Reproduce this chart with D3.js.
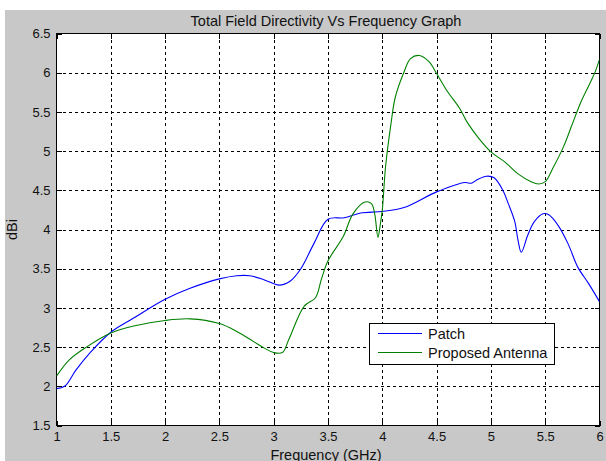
<!DOCTYPE html>
<html>
<head>
<meta charset="utf-8">
<script src="https://cdn.jsdelivr.net/npm/d3@7"></script>
<style>
  body { margin: 0; background: #fff; }
  svg { display: block; }
  text { font-family: Arial, "Liberation Sans", sans-serif; fill: #111; }
</style>
</head>
<body>
<svg id="chart" width="606" height="461"></svg>
<script>
// Directivity of the reference patch (GHz, dBi)
const patchFreq = [1.0, 1.075, 1.18, 1.31, 1.5, 1.71, 2.0, 2.23, 2.5, 2.66, 2.78, 2.91, 3.05, 3.15, 3.25, 3.37, 3.5, 3.65, 3.8, 4.0, 4.2, 4.5, 4.76, 4.82, 4.88, 4.96, 5.03, 5.11, 5.16, 5.22, 5.25, 5.28, 5.34, 5.40, 5.48, 5.53, 5.62, 5.71, 5.80, 5.90, 6.0];
const patchDir  = [1.97, 2.0, 2.21, 2.43, 2.69, 2.87, 3.11, 3.25, 3.37, 3.41, 3.41, 3.36, 3.29, 3.34, 3.5, 3.82, 4.13, 4.15, 4.21, 4.23, 4.28, 4.48, 4.6, 4.59, 4.64, 4.68, 4.66, 4.5, 4.33, 4.10, 3.86, 3.71, 3.93, 4.10, 4.20, 4.19, 4.05, 3.82, 3.52, 3.31, 3.08];

// Directivity of the proposed antenna (GHz, dBi)
const antennaFreq = [1.0, 1.12, 1.275, 1.5, 1.71, 2.0, 2.23, 2.5, 2.66, 2.815, 2.91, 3.0, 3.08, 3.14, 3.28, 3.385, 3.44, 3.5, 3.64, 3.73, 3.84, 3.9, 3.93, 3.96, 3.98, 4.0, 4.03, 4.08, 4.12, 4.2, 4.26, 4.34, 4.43, 4.5, 4.6, 4.71, 4.79, 4.89, 5.0, 5.13, 5.25, 5.37, 5.44, 5.5, 5.57, 5.67, 5.74, 5.83, 5.91, 5.96, 6.0];
const antennaDir  = [2.13, 2.34, 2.5, 2.68, 2.77, 2.84, 2.86, 2.80, 2.70, 2.57, 2.49, 2.43, 2.43, 2.6, 3.02, 3.13, 3.37, 3.6, 3.91, 4.20, 4.35, 4.33, 4.2, 3.9, 4.05, 4.25, 4.8, 5.35, 5.69, 6.01, 6.18, 6.22, 6.14, 5.99, 5.76, 5.55, 5.35, 5.16, 4.99, 4.86, 4.71, 4.61, 4.58, 4.61, 4.78, 5.06, 5.31, 5.63, 5.86, 6.01, 6.17];

const xTicks = [1, 1.5, 2, 2.5, 3, 3.5, 4, 4.5, 5, 5.5, 6];
const yTicks = [1.5, 2, 2.5, 3, 3.5, 4, 4.5, 5, 5.5, 6, 6.5];

const seriesNames = ["Patch", "Proposed Antenna"];
const seriesColors = ["#0000ff", "#008000"];

const W = 606, H = 461;
const box = { left: 56.5, right: 599.5, top: 33.5, bottom: 425.5 };

const svg = d3.select("#chart");

// figure background
svg.append("rect")
  .attr("x", 5).attr("y", 10).attr("width", W - 5).attr("height", H - 10)
  .attr("fill", "#c8c8c8");

// axes background
svg.append("rect")
  .attr("x", box.left).attr("y", box.top)
  .attr("width", box.right - box.left).attr("height", box.bottom - box.top)
  .attr("fill", "#ffffff");

const x = d3.scaleLinear().domain([1, 6]).range([box.left, box.right]);
const y = d3.scaleLinear().domain([1.5, 6.5]).range([box.bottom, box.top]);

// dotted grid
const grid = svg.append("g").attr("stroke", "#000").attr("stroke-width", 1)
  .attr("stroke-dasharray", "3,3").attr("shape-rendering", "crispEdges");
grid.selectAll("line.gx").data(xTicks.slice(1, -1)).join("line")
  .attr("x1", d => Math.round(x(d)) + 0.5).attr("x2", d => Math.round(x(d)) + 0.5)
  .attr("y1", box.top).attr("y2", box.bottom);
grid.selectAll("line.gy").data(yTicks.slice(1, -1)).join("line")
  .attr("y1", d => Math.round(y(d)) + 0.5).attr("y2", d => Math.round(y(d)) + 0.5)
  .attr("x1", box.left).attr("x2", box.right);

const fmt = d => String(d);

// axes with inward ticks
const gx = svg.append("g").attr("transform", `translate(0,${box.bottom})`)
  .call(d3.axisBottom(x).tickValues(xTicks).tickFormat(fmt).tickSize(-5).tickPadding(6));
const gy = svg.append("g").attr("transform", `translate(${box.left},0)`)
  .call(d3.axisLeft(y).tickValues(yTicks).tickFormat(fmt).tickSize(-5).tickPadding(6));
const gxt = svg.append("g").attr("transform", `translate(0,${box.top})`)
  .call(d3.axisTop(x).tickValues(xTicks).tickFormat("").tickSize(-5));
const gyr = svg.append("g").attr("transform", `translate(${box.right},0)`)
  .call(d3.axisRight(y).tickValues(yTicks).tickFormat("").tickSize(-5));

[gx, gy, gxt, gyr].forEach(g => {
  g.select(".domain").remove();
  g.selectAll("line").attr("stroke", "#000").attr("shape-rendering", "crispEdges");
  g.selectAll("text").attr("font-size", 13).attr("fill", "#111")
    .attr("font-family", "Arial, 'Liberation Sans', sans-serif");
});

// axes frame
svg.append("rect")
  .attr("x", box.left).attr("y", box.top)
  .attr("width", box.right - box.left).attr("height", box.bottom - box.top)
  .attr("fill", "none").attr("stroke", "#000").attr("stroke-width", 1)
  .attr("shape-rendering", "crispEdges");

// curves
svg.append("clipPath").attr("id", "plotClip").append("rect")
  .attr("x", box.left).attr("y", box.top)
  .attr("width", box.right - box.left).attr("height", box.bottom - box.top);

const line = d3.line()
  .x(d => x(d[0])).y(d => y(d[1]))
  .curve(d3.curveCatmullRom.alpha(0.5));

const series = [
  d3.zip(patchFreq, patchDir),
  d3.zip(antennaFreq, antennaDir)
];

const curves = svg.append("g").attr("clip-path", "url(#plotClip)");
series.forEach((pts, i) => {
  curves.append("path")
    .datum(pts)
    .attr("d", line)
    .attr("fill", "none")
    .attr("stroke", seriesColors[i])
    .attr("stroke-width", 1.1);
});

// title and axis labels
svg.append("text")
  .attr("x", 326).attr("y", 26)
  .attr("text-anchor", "middle").attr("font-size", 14.5)
  .text("Total Field Directivity Vs Frequency Graph");

svg.append("text")
  .attr("x", 326).attr("y", 460)
  .attr("text-anchor", "middle").attr("font-size", 14.5)
  .text("Frequency (GHz)");

svg.append("text")
  .attr("transform", `translate(17,${(box.top + box.bottom) / 2}) rotate(-90)`)
  .attr("text-anchor", "middle").attr("font-size", 14.5)
  .text("dBi");

// legend
const legend = svg.append("g");
legend.append("rect")
  .attr("x", 369.5).attr("y", 323.5).attr("width", 185).attr("height", 41)
  .attr("fill", "#fff").attr("stroke", "#000").attr("shape-rendering", "crispEdges");
seriesNames.forEach((name, i) => {
  const ly = 333.5 + i * 19;
  legend.append("line")
    .attr("x1", 378).attr("x2", 422).attr("y1", ly).attr("y2", ly)
    .attr("stroke", seriesColors[i]).attr("stroke-width", 1.1);
  legend.append("text")
    .attr("x", 428).attr("y", ly + 5).attr("font-size", 14.5)
    .text(name);
});
</script>
</body>
</html>
